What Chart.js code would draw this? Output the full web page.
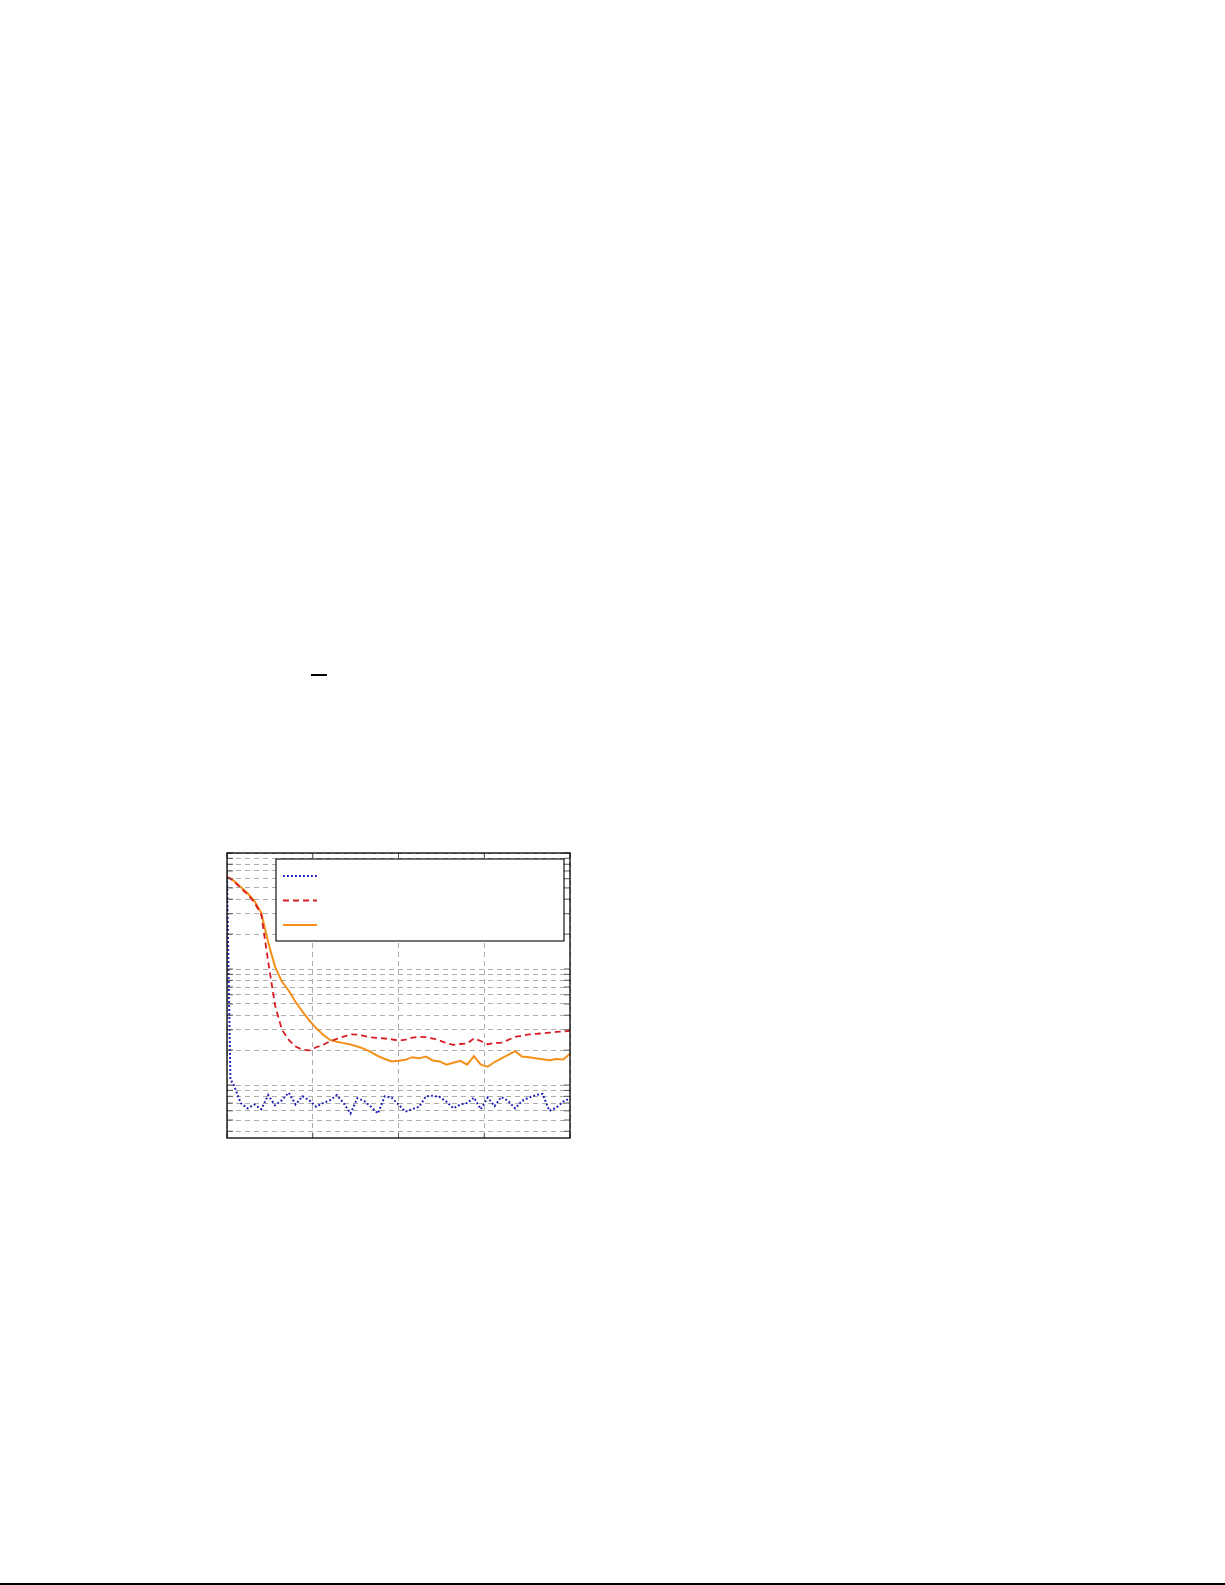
<!DOCTYPE html>
<html>
<head>
<meta charset="utf-8">
<script src="https://cdn.jsdelivr.net/npm/chart.js@4.4.1/dist/chart.umd.min.js"></script>
<style>
  html, body { margin: 0; padding: 0; background: #fff; }
  body { width: 1225px; height: 1585px; position: relative; overflow: hidden; }
  #chartBox { position: absolute; left: 217px; top: 843px; width: 363px; height: 305px; }
  .rule { position: absolute; background: #000; }
</style>
</head>
<body>
<div class="rule" style="left:311px; top:674px; width:16px; height:1.5px;"></div>
<div id="chartBox"><canvas id="errChart"></canvas></div>
<div class="rule" style="left:0; top:1583px; width:1225px; height:1.5px;"></div>
<script>
// iteration index shared by the three curves
const steps = [0, 1, 2, 4, 6, 8, 10, 12, 14, 16, 18, 20, 22, 24, 26, 28, 30, 32, 34, 36, 38, 40,
    42, 44, 46, 48, 50, 52, 54, 56, 58, 60, 62, 64, 66, 68, 70, 72, 74, 76, 78, 80, 82, 84, 86, 88,
    90, 92, 94, 96, 98, 100];

// blue dotted curve
const dottedValues = [62, 1.12, 1.0, 0.70, 0.63, 0.68, 0.62, 0.82, 0.67, 0.74, 0.86, 0.68, 0.80, 0.74,
    0.65, 0.70, 0.74, 0.82, 0.70, 0.57, 0.77, 0.73, 0.65, 0.57, 0.80, 0.78, 0.68, 0.59, 0.62, 0.65,
    0.80, 0.81, 0.79, 0.72, 0.63, 0.68, 0.70, 0.78, 0.62, 0.78, 0.66, 0.79, 0.73, 0.63, 0.73, 0.78,
    0.82, 0.84, 0.60, 0.64, 0.72, 0.77];

// red dashed curve
const dashedValues = [62, 60, 57, 50, 44, 37.5, 29.5, 11.6, 4.9, 3.0, 2.45, 2.15, 2.02, 1.99, 2.12,
    2.22, 2.38, 2.50, 2.62, 2.74, 2.72, 2.65, 2.58, 2.55, 2.52, 2.48, 2.42, 2.46, 2.56, 2.61, 2.59,
    2.52, 2.42, 2.30, 2.22, 2.26, 2.28, 2.52, 2.40, 2.25, 2.30, 2.32, 2.45, 2.60, 2.66, 2.73, 2.76,
    2.79, 2.83, 2.87, 2.90, 2.94];

// orange solid curve
const solidValues = [62, 60.5, 57.5, 51, 45, 38.5, 30.5, 17, 10.5, 7.8, 6.5, 5.2, 4.3, 3.6, 3.1,
    2.72, 2.45, 2.36, 2.30, 2.24, 2.15, 2.05, 1.92, 1.78, 1.68, 1.60, 1.62, 1.65, 1.74, 1.70, 1.76,
    1.63, 1.60, 1.50, 1.56, 1.62, 1.50, 1.78, 1.50, 1.44, 1.58, 1.70, 1.82, 1.96, 1.76, 1.74, 1.70,
    1.67, 1.64, 1.68, 1.66, 1.86];

const seriesNames = ['dotted', 'dashed', 'solid'];
const xTicks = [0, 25, 50, 75, 100];
const yDecades = [0.1, 1, 10, 100];
const yMin = 0.35;
const yMax = 100;

function toPoints(values) {
    return steps.map((x, i) => ({ x: x, y: values[i] }));
}

// log grid: 1..9 in every decade, inside the axis range
function logTicks() {
    const ticks = [];
    yDecades.forEach(dec => {
        for (let m = 1; m <= 9; m++) {
            const v = +(m * dec).toPrecision(3);
            if (v >= yMin && v <= yMax) ticks.push({ value: v });
        }
    });
    return ticks;
}

// inner tick marks, frame and boxed legend (line samples only)
const framePlugin = {
    id: 'framePlugin',
    afterDatasetsDraw(chart) {
        const ctx = chart.ctx;
        const a = chart.chartArea;
        const xs = chart.scales.x, ys = chart.scales.y;
        ctx.save();
        ctx.setLineDash([]);
        ctx.strokeStyle = '#555';
        ctx.lineWidth = 1;
        ctx.beginPath();
        ys.ticks.forEach(t => {
            const py = ys.getPixelForValue(t.value);
            ctx.moveTo(a.left, py); ctx.lineTo(a.left + 6, py);
            ctx.moveTo(a.right - 6, py); ctx.lineTo(a.right, py);
        });
        xs.ticks.forEach(t => {
            const px = xs.getPixelForValue(t.value);
            ctx.moveTo(px, a.top); ctx.lineTo(px, a.top + 5);
            ctx.moveTo(px, a.bottom - 5); ctx.lineTo(px, a.bottom);
        });
        ctx.stroke();

        ctx.strokeStyle = '#000';
        ctx.lineWidth = 1.3;
        ctx.strokeRect(a.left, a.top, a.right - a.left, a.bottom - a.top);

        // legend box
        const lx = a.left + 49, ly = a.top + 6, lw = 288, lh = 82;
        ctx.fillStyle = '#fff';
        ctx.fillRect(lx, ly, lw, lh);
        ctx.lineWidth = 1.1;
        ctx.strokeRect(lx, ly, lw, lh);
        chart.data.datasets.forEach((ds, i) => {
            const sy = ly + 17 + i * 24.5;
            ctx.strokeStyle = ds.borderColor;
            ctx.lineWidth = ds.borderWidth;
            ctx.setLineDash(ds.borderDash || []);
            ctx.beginPath();
            ctx.moveTo(lx + 7, sy);
            ctx.lineTo(lx + 41, sy);
            ctx.stroke();
        });
        ctx.restore();
    }
};

const gridStyle = { color: '#adadad', lineWidth: 1, drawTicks: false };
const gridBorder = { display: false, dash: [5, 4] };

new Chart(document.getElementById('errChart').getContext('2d'), {
    type: 'line',
    data: {
        datasets: [
            {
                label: seriesNames[0],
                data: toPoints(dottedValues),
                borderColor: '#1a1ab8',
                borderWidth: 2,
                borderDash: [1.8, 2.2],
                fill: false
            },
            {
                label: seriesNames[1],
                data: toPoints(dashedValues),
                borderColor: '#d91c24',
                borderWidth: 1.8,
                borderDash: [6, 4],
                fill: false
            },
            {
                label: seriesNames[2],
                data: toPoints(solidValues),
                borderColor: '#f39019',
                borderWidth: 2,
                fill: false
            }
        ]
    },
    options: {
        responsive: true,
        maintainAspectRatio: false,
        animation: false,
        layout: { padding: 10 },
        elements: { point: { radius: 0 }, line: { tension: 0 } },
        plugins: { legend: { display: false }, tooltip: { enabled: false } },
        scales: {
            x: {
                type: 'linear',
                min: xTicks[0],
                max: xTicks[xTicks.length - 1],
                afterBuildTicks: scale => { scale.ticks = xTicks.map(v => ({ value: v })); },
                ticks: { display: false },
                grid: gridStyle,
                border: gridBorder
            },
            y: {
                type: 'logarithmic',
                min: yMin,
                max: yMax,
                afterBuildTicks: scale => { scale.ticks = logTicks(); },
                ticks: { display: false },
                grid: gridStyle,
                border: gridBorder
            }
        }
    },
    plugins: [framePlugin]
});
</script>
</body>
</html>
